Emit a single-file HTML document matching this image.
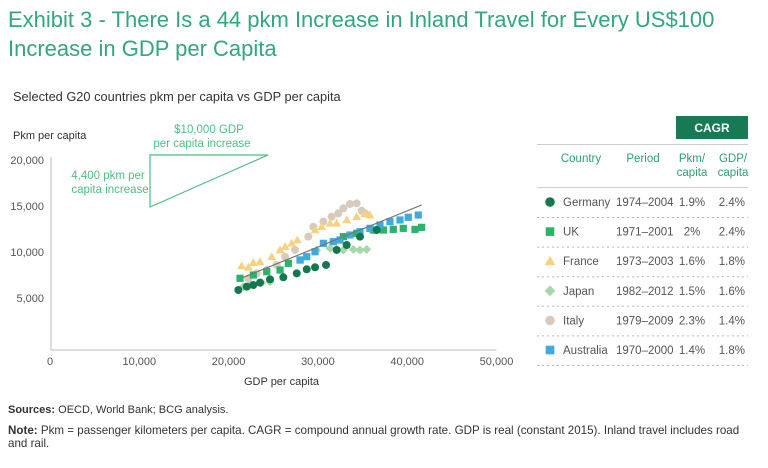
<!DOCTYPE html>
<html><head><meta charset="utf-8"><style>
body{margin:0;background:#fff;font-family:"Liberation Sans",sans-serif;}
#wrap{position:relative;width:768px;height:468px;overflow:hidden;}
.t{position:absolute;white-space:nowrap;}
</style></head><body><div id="wrap">
<div class="t" style="left:8px;top:5px;font-size:22px;line-height:29px;color:#32a67f;">Exhibit 3 - There Is a 44 pkm Increase in Inland Travel for Every US$100<br>Increase in GDP per Capita</div>
<div class="t" style="left:13px;top:89px;font-size:12.8px;color:#333;">Selected G20 countries pkm per capita vs GDP per capita</div>
<svg id="plot" width="768" height="468" style="position:absolute;left:0;top:0"></svg>
<div class="t" style="left:8px;top:404px;font-size:11px;color:#333;"><b>Sources:</b> OECD, World Bank; BCG analysis.</div>
<div class="t" style="left:8px;top:425px;font-size:11.6px;line-height:12.5px;color:#333;white-space:normal;width:752px;"><b>Note:</b> Pkm = passenger kilometers per capita. CAGR = compound annual growth rate. GDP is real (constant 2015). Inland travel includes road and rail.</div>
</div>
<script>
const xTicks=[0,10000,20000,30000,40000,50000];
const yTicks=[5000,10000,15000,20000];
const germanyX=[21090,22030,22770,23520,24640,26130,27630,28750,29680,30910,32100,33220,34710,36580];
const germanyY=[5870,6230,6410,6670,7030,7250,7680,8120,8340,8590,10220,10760,11670,12390];
const ukX=[21280,22770,24270,25760,26690,28000,32850,34340,36200,37330,38440,39560,40870,41620];
const ukY=[7140,7500,7860,8040,8770,9130,11670,12030,12390,12390,12460,12570,12460,12680];
const franceX=[21460,22210,22770,23520,24830,25760,26320,27060,27700,29680,30420,31360,32100,33220,34340,35270,35830];
const franceY=[8480,8340,8840,8950,9490,10220,10580,10940,11300,12390,12750,13120,13120,13480,13840,14130,14020];
const japanX=[21650,22400,23700,24640,29860,31360,32100,32850,33970,34710,35460];
const japanY=[6230,6410,6670,6770,10220,10400,10290,10220,10290,10220,10290];
const italyX=[22210,23140,24270,25390,26320,27440,28930,29490,30610,31540,32290,32850,33590,34340,34900,35270];
const italyY=[7140,7680,8040,8590,9490,10220,11670,12750,13300,13840,14200,14750,15220,15290,14490,14200];
const ausX=[28000,28750,29680,30610,31720,32470,33590,34710,35830,36950,38070,39190,40120,41240];
const ausY=[9130,9490,10030,10940,11120,11300,11850,12210,12570,12930,13300,13480,13770,14020];
const trendX=[21650,41620];
const trendY=[7250,15110];
const countries=['Germany','UK','France','Japan','Italy','Australia'];
const periods=['1974–2004','1971–2001','1973–2003','1982–2012','1979–2009','1970–2000'];
const pkmCagr=['1.9%','2%','1.6%','1.5%','2.3%','1.4%'];
const gdpCagr=['2.4%','2.4%','1.8%','1.6%','1.4%','1.8%'];

const NS='http://www.w3.org/2000/svg';
const svg=document.getElementById('plot');
const sx=v=>50+v*0.00893;
const sy=v=>344-v*0.0092;
function mk(tag,at,parent){const e=document.createElementNS(NS,tag);for(const k in at)e.setAttribute(k,at[k]);(parent||svg).appendChild(e);return e;}
function txt(x,y,s,at){const e=mk('text',Object.assign({x:x,y:y,'font-family':'Liberation Sans, sans-serif','font-size':11,fill:'#555'},at));e.textContent=s;return e;}

let a=mk('line',{x1:51,y1:157,x2:51,y2:350,stroke:'#bbb'});

a=mk('line',{x1:51,y1:350,x2:sx(50000),y2:350,stroke:'#bbb'});

xTicks.forEach(v=>{const e=txt(sx(v),365,v.toLocaleString('en-US'),{'text-anchor':'middle'});
});
yTicks.forEach(v=>{const e=txt(44,sy(v)+4,v.toLocaleString('en-US'),{'text-anchor':'end'});
});
a=txt(13,139,'Pkm per capita',{fill:'#333'});
a=txt(244,385,'GDP per capita',{fill:'#333'});

a=mk('polygon',{points:'150,155 268,155 150,207',fill:'none',stroke:'#4dbf82','stroke-width':1.2});

[['$10,000 GDP',209,133],['per capita increase',202,147]].forEach(r=>{const e=txt(r[1],r[2],r[0],{fill:'#4dbf82','text-anchor':'middle','font-size':11.5});
});
[['4,400 pkm per',108,179],['capita increase',110,193]].forEach(r=>{const e=txt(r[1],r[2],r[0],{fill:'#4dbf82','text-anchor':'middle','font-size':11.5});
});

function marker(shape,color,x,y,g){let e;
 if(shape==='circle')e=mk('circle',{cx:x,cy:y,r:4,fill:color},g);
 else if(shape==='square')e=mk('rect',{x:x-3.6,y:y-3.6,width:7.2,height:7.2,fill:color},g);
 else if(shape==='tri')e=mk('polygon',{points:`${x},${y-4.5} ${x+4.5},${y+3.3} ${x-4.5},${y+3.3}`,fill:color},g);
 else e=mk('polygon',{points:`${x},${y-4.5} ${x+4.5},${y} ${x},${y+4.5} ${x-4.5},${y}`,fill:color},g);
 return e;}
const series=[
 ['germany','circle','#13784e',germanyX,germanyY],
 ['uk','square','#29b46a',ukX,ukY],
 ['france','tri','#f6d27e',franceX,franceY],
 ['japan','diamond','#a6d9a9',japanX,japanY],
 ['italy','circle','#d8cbbd',italyX,italyY],
 ['australia','square','#3fabdd',ausX,ausY]];
const order=[4,2,3,1,5,0];
order.forEach(i=>{const s=series[i];const g=mk('g',{});
 
 s[3].forEach((v,j)=>{const m=marker(s[1],s[2],sx(v),sy(s[4][j]),g);
  });});
a=mk('line',{x1:sx(trendX[0]),y1:sy(trendY[0]),x2:sx(trendX[1]),y2:sy(trendY[1]),stroke:'#777','stroke-width':1.2});


a=mk('rect',{x:676,y:116,width:72,height:23,fill:'#177a55'});
a=txt(712,132,'CAGR',{fill:'#fff','font-weight':'bold','text-anchor':'middle','font-size':12});
mk('line',{x1:537,y1:144.5,x2:748,y2:144.5,stroke:'#ccc'});
mk('line',{x1:537,y1:187.5,x2:748,y2:187.5,stroke:'#ccc'});
const hc='#2e9e74';
[['Country',581,162],['Period',643,162],['Pkm/',692,162],['capita',692,176],['GDP/',733,162],['capita',733,176]].forEach(h=>{
 const e=txt(h[1],h[2],h[0],{fill:hc,'text-anchor':'middle','font-size':11.5});
 });
countries.forEach((c,i)=>{const y=202+i*29.6;const s=series[i];
 const g=mk('g',{});
 marker(s[1],s[2],550,y,g).setAttribute('transform',`translate(${-550*0.2},${-y*0.2}) scale(1.2)`);
 let e=txt(563,y+4,c,{'font-size':11.5});
 e=txt(616,y+4,periods[i],{'font-size':11.5});
 e=txt(692,y+4,pkmCagr[i],{'font-size':11.5,'text-anchor':'middle'});
 e=txt(745,y+4,gdpCagr[i],{'font-size':11.5,'text-anchor':'end'});
 mk('line',{x1:537,y1:y+15.5,x2:748,y2:y+15.5,stroke:'#bbb','stroke-dasharray':'2,3'});
});
</script></body></html>
